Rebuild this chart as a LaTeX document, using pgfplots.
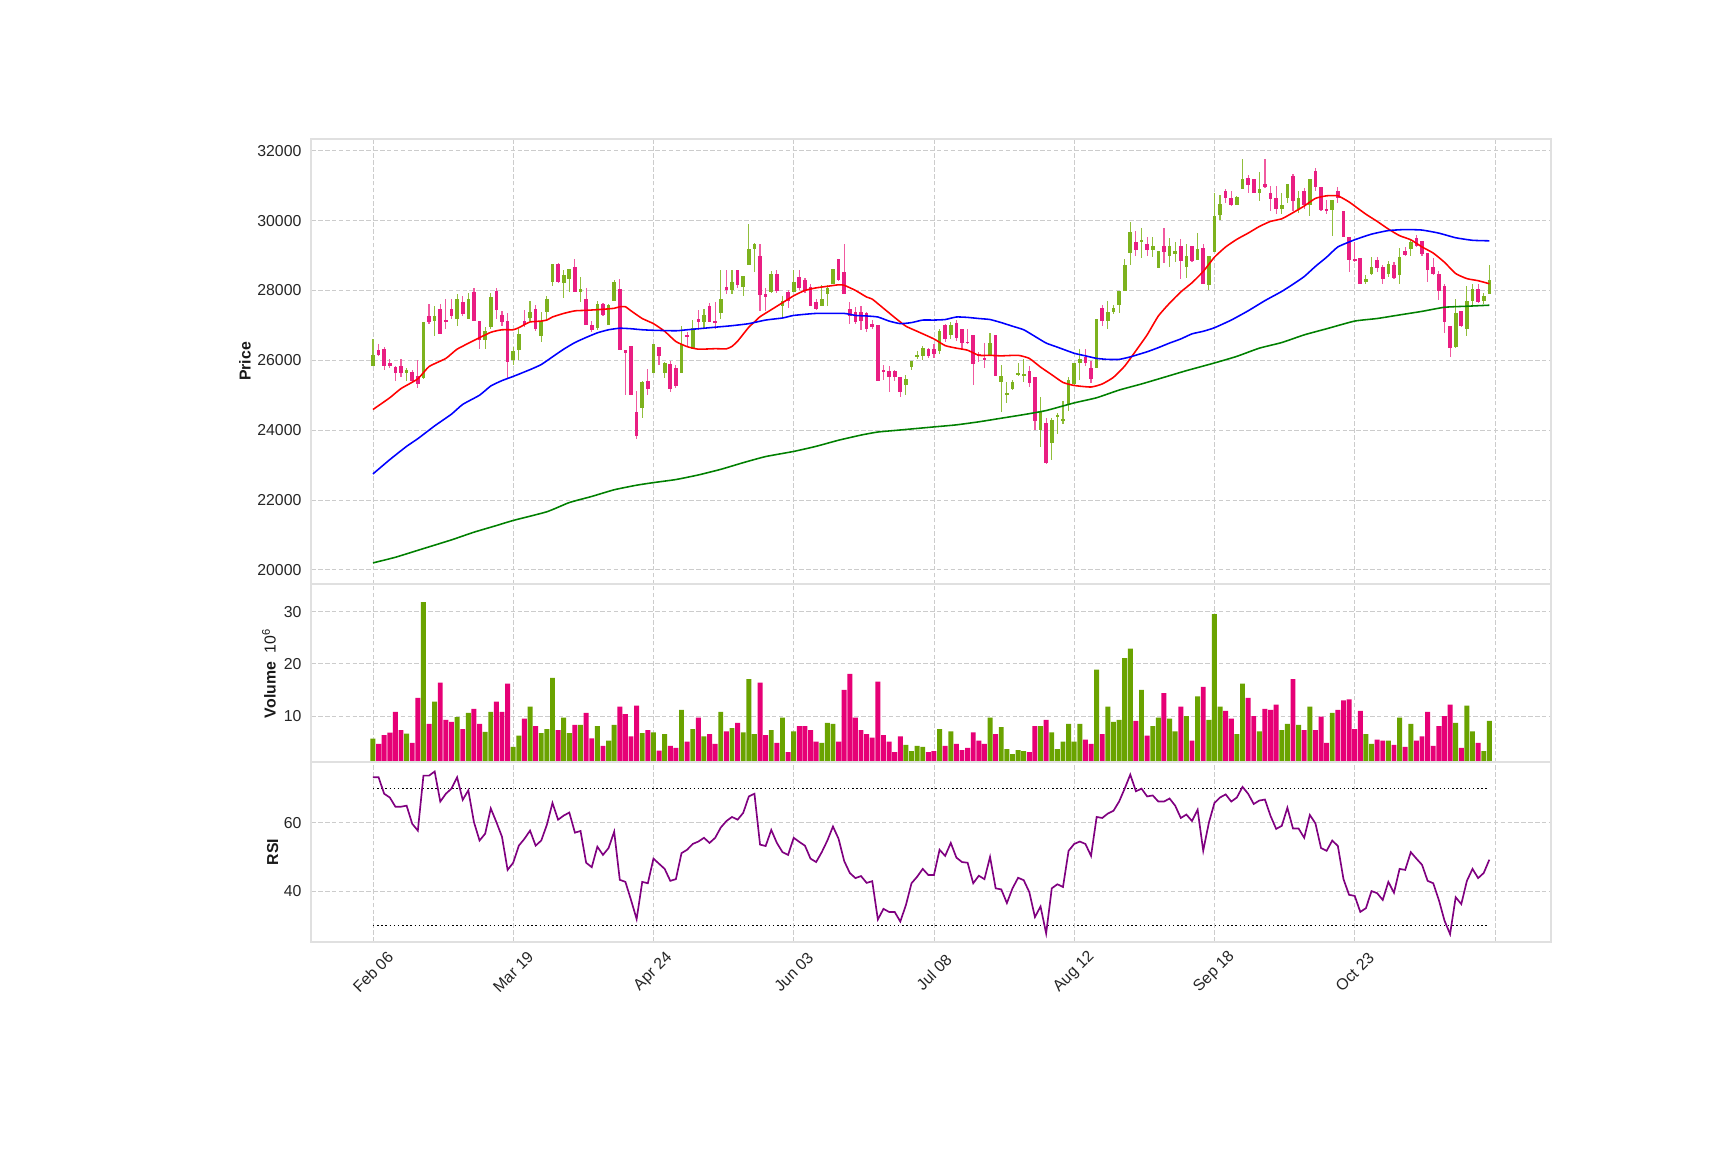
\documentclass[border=0pt]{standalone}
\usepackage{pgfplots}
\pgfplotsset{compat=1.18}
\usepackage{pgfplotstable}
\usepackage{fontspec}
\setmainfont{Liberation Sans}
\setsansfont{Liberation Sans}

\definecolor{upbody}{RGB}{125,178,30}
\definecolor{upwick}{RGB}{145,190,60}
\definecolor{dnbody}{RGB}{233,30,130}
\definecolor{dnwick}{RGB}{240,90,160}
\definecolor{volup}{RGB}{106,163,0}
\definecolor{voldn}{RGB}{230,0,118}
\definecolor{rsic}{RGB}{128,0,128}
\definecolor{magreen}{RGB}{0,128,0}

\pgfplotstableread{
i o h l c v r
0 25851 26613 25851 26144 5.67 73.3
1 26290 26466 26115 26144 4.68 73.3
2 26334 26393 25734 25836 6.35 68.5
3 25924 26027 25793 25836 6.85 67.4
4 25822 25836 25412 25646 10.8 64.7
5 25851 26027 25514 25632 7.34 64.7
6 25632 25778 25412 25719 6.65 65.0
7 25661 25734 25353 25412 4.88 59.7
8 25558 25997 25207 25324 13.5 57.7
9 25485 27110 25470 27110 31.8 73.8
10 27271 27608 27051 27095 8.5 73.8
11 27125 27564 26686 27271 12.76 75.0
12 27476 27608 26744 26750 16.4 66.2
13 27154 27754 26905 27095 9.3 68.5
14 27476 27754 27198 27271 8.9 70.0
15 27198 27886 26978 27754 9.8 73.3
16 27667 27857 27271 27330 7.5 66.7
17 27183 27930 27183 27769 10.6 69.5
18 27959 28076 27125 27130 11.4 60.2
19 27125 27125 26334 26569 8.5 54.8
20 26583 26964 26334 26832 7.0 56.8
21 26949 27930 26905 27827 10.8 64.2
22 27974 28076 27198 27447 12.76 60.2
23 27286 27418 26978 27110 10.8 55.9
24 27139 27344 25500 25954 16.2 46.2
25 25998 26393 25880 26261 4.1 48.3
26 26290 26905 25998 26759 6.26 53.3
27 27139 27447 26964 27022 9.5 55.3
28 27227 27696 27125 27388 11.8 57.7
29 27476 27593 26832 26891 8.1 53.3
30 26700 27374 26539 27125 6.75 54.8
31 27374 27857 27168 27754 7.5 59.4
32 28237 28750 28120 28750 17.3 65.8
33 28750 28780 28208 28237 7.34 60.9
34 28223 28589 27784 28457 9.7 62.1
35 28325 28620 27959 28603 6.75 63.0
36 28677 28896 27959 27965 8.3 57.1
37 27945 28398 27667 28047 8.3 57.6
38 27769 28076 27008 27015 10.6 48.3
39 27022 27125 26818 26861 5.76 47.0
40 26935 27696 26876 27608 8.1 53.0
41 27622 27650 27260 27286 4.3 50.6
42 27022 27608 27022 27579 5.3 52.6
43 27710 28296 27710 28237 8.3 57.4
44 28032 28325 26290 26300 11.8 43.3
45 26290 26300 25002 26203 10.4 42.7
46 26422 26422 25002 25010 6.1 37.4
47 24533 25119 23757 23830 12.0 31.8
48 24636 25397 24343 25383 6.75 42.7
49 25412 25749 25002 25192 7.34 42.3
50 25646 26466 25646 26466 6.9 49.5
51 26393 26393 25866 26115 3.4 48.0
52 25632 25940 25485 25910 6.55 46.5
53 25895 25983 25104 25192 4.3 43.0
54 25793 25866 25207 25266 3.9 43.5
55 25646 26978 25646 26466 11.2 51.1
56 26715 26803 26422 26671 5.1 52.1
57 26320 27169 26320 26935 7.5 53.8
58 27183 27447 26876 27095 9.7 54.5
59 27095 27462 26905 27286 6.1 55.6
60 27564 27637 27095 27100 6.55 54.1
61 27125 27667 26905 27081 4.7 55.6
62 27344 28589 27198 27769 10.8 58.6
63 28106 28589 27886 28018 7.1 60.5
64 28018 28589 27901 28237 7.7 61.7
65 28574 28589 28076 28150 8.7 60.9
66 28091 28428 27842 28428 6.9 62.9
67 28720 29906 28720 29189 17.1 67.7
68 29189 29350 28516 29335 6.55 68.5
69 28999 29321 27418 27872 16.4 53.6
70 27901 28076 27418 27813 6.35 53.2
71 27945 28545 27930 28472 7.34 57.9
72 28472 28589 27930 27989 4.88 54.1
73 27564 27857 27227 27710 9.7 51.4
74 27945 28003 27491 27696 3.1 50.6
75 27959 28589 27959 28252 7.1 55.6
76 28398 28589 28003 28076 8.1 54.4
77 28311 28369 27930 27989 8.1 53.3
78 28106 28179 27549 27555 7.34 49.5
79 27681 27754 27447 27462 5.1 48.5
80 27549 28150 27549 27754 4.88 51.4
81 27901 28150 27564 28076 8.7 54.8
82 28194 28603 28194 28603 8.5 58.9
83 28896 28896 28281 28311 5.1 55.3
84 28516 29321 27901 27910 15.0 48.8
85 27462 27667 27051 27257 18.1 45.3
86 27374 27520 27051 27110 9.7 43.8
87 27374 27550 26861 27125 7.34 44.4
88 27359 27388 26818 26891 6.55 42.4
89 27051 27168 26905 26949 5.86 42.9
90 27022 27022 25412 25420 16.6 31.7
91 25720 25866 25441 25690 6.35 34.8
92 25705 25837 25104 25529 5.1 33.9
93 25705 25710 25412 25529 3.1 33.9
94 25529 25529 24958 25104 6.1 31.1
95 25280 25588 25002 25471 4.5 35.9
96 25822 25983 25720 25983 3.3 42.3
97 26085 26276 26027 26159 4.3 44.2
98 26115 26407 25998 26349 4.1 46.5
99 26334 26360 26070 26115 3.1 44.7
100 26334 26466 26056 26173 3.3 44.7
101 26276 26905 26173 26832 7.5 52.1
102 27022 27051 26539 26612 4.3 50.3
103 26715 27110 26612 27022 7.1 54.1
104 27066 27154 26568 26642 4.7 49.8
105 26905 26905 26320 26510 3.5 48.5
106 26539 26905 26480 26495 3.9 48.3
107 26715 26715 25295 25895 6.9 42.3
108 26173 26250 25950 26129 5.3 44.5
109 26071 26495 25778 25998 4.7 43.5
110 26159 26788 26144 26495 9.7 50.0
111 26730 26730 25544 25550 6.55 40.8
112 25383 25880 24519 25558 7.9 40.5
113 25002 25368 24768 25061 3.7 36.5
114 25193 25441 25148 25368 2.7 40.8
115 25573 25910 25558 25646 3.5 43.9
116 25573 26027 25368 25603 3.3 43.2
117 25705 25851 25251 25339 3.1 39.7
118 25514 25514 24006 24255 8.1 32.4
119 24006 24958 23508 24563 8.1 35.5
120 24197 24343 23040 23050 9.3 27.6
121 23640 24343 23142 24299 6.9 40.8
122 24372 24490 23889 24446 3.7 42.0
123 24255 24826 24167 24314 5.1 41.2
124 24709 25514 24563 25441 8.5 51.8
125 25324 25925 25300 25925 5.1 53.8
126 25910 26320 25441 26027 8.5 54.5
127 26100 26320 25837 25910 5.5 53.8
128 25793 25983 25353 25471 4.7 50.3
129 25793 27198 25793 27198 18.9 61.7
130 27491 27593 26978 27125 6.55 61.4
131 27125 27710 26905 27374 11.8 62.7
132 27374 27593 27330 27491 8.9 63.5
133 27593 27989 27344 27989 9.3 66.2
134 27989 28911 27989 28735 21.1 70.0
135 29072 29950 28735 29687 22.9 74.1
136 29394 29716 28984 29174 9.1 69.2
137 29394 29804 28926 29452 15.0 70.0
138 29335 29540 28984 29174 6.26 67.7
139 29174 29540 28955 29277 8.1 68.0
140 28633 29130 28633 29130 9.7 66.2
141 29277 29789 28779 29116 14.4 66.2
142 28984 29497 28662 29277 9.5 67.1
143 29043 29394 28808 29130 7.1 65.0
144 29277 29467 28340 28838 11.8 61.4
145 28662 29321 28369 28984 10.0 62.4
146 29262 29262 28808 28838 5.3 60.5
147 28867 29658 28867 29189 13.8 63.8
148 29204 29321 28179 28185 15.6 51.8
149 28150 28984 28003 28984 9.3 60.0
150 29101 30785 29101 30126 29.5 65.8
151 30155 30741 30009 30478 11.8 67.4
152 30858 30902 30492 30639 11.0 68.3
153 30639 30858 30419 30448 9.5 66.2
154 30463 30700 30440 30668 6.55 67.4
155 30902 31766 30902 31180 16.2 70.5
156 31224 31297 30785 31034 13.5 68.5
157 31180 31200 30785 30790 10.0 65.5
158 30785 31400 30565 30917 7.1 66.5
159 31048 31766 30931 30975 11.4 66.8
160 30785 31004 30273 30609 11.2 62.0
161 30653 31004 30200 30331 12.2 58.2
162 30331 30785 30200 30448 7.34 59.1
163 30653 31063 30492 31063 8.5 64.4
164 31268 31326 30273 30565 17.1 58.3
165 30346 30858 30229 30639 8.3 58.3
166 30858 30931 30346 30448 7.34 55.6
167 30448 31180 30126 31180 11.8 62.3
168 31414 31517 30858 30975 7.34 59.8
169 30975 30975 30273 30317 9.9 52.6
170 30346 30595 30200 30273 4.88 51.8
171 30317 30595 29570 30595 10.6 54.8
172 30858 30961 30492 30639 11.2 53.2
173 30273 30290 29520 29540 13.0 43.5
174 29540 29540 28516 28867 13.2 38.9
175 28896 29394 28808 28867 7.5 38.6
176 28926 28940 28179 28185 11.0 33.9
177 28252 28442 28194 28340 6.55 35.0
178 28486 28955 28442 28662 4.7 40.0
179 28867 28955 28516 28633 5.5 39.4
180 28662 28735 28179 28340 5.3 37.4
181 28486 28838 28398 28750 5.3 42.7
182 28720 28808 28340 28369 4.5 39.5
183 28442 29218 28194 28955 9.7 46.5
184 29130 29250 28980 29028 4.1 46.2
185 29189 29467 28984 29394 8.5 51.4
186 29511 29599 29248 29277 5.3 49.5
187 29423 29423 28984 29043 6.1 47.7
188 29072 29072 28252 28589 10.8 43.0
189 28662 28926 28442 28486 4.3 42.3
190 28472 28545 27740 27989 8.1 37.4
191 28135 28179 26788 27110 10.0 31.4
192 26993 26993 26100 26349 12.2 27.4
193 26378 27754 26349 27344 8.7 38.2
194 27403 27420 26950 26978 3.9 36.2
195 26905 28120 26686 27696 12.0 43.0
196 27696 28179 27520 28032 7.1 46.5
197 28032 28179 27637 27667 4.88 43.8
198 27696 27930 27608 27857 3.3 45.3
199 27901 28735 27901 28311 9.1 49.2
}\cdata

\pgfplotstableread{
i m
0 24592
3 24929
5 25192
8 25471
10 25822
13 26056
15 26320
18 26568
21 26803
23 26876
25 26876
26 26935
27 27022
28 27100
30 27125
31 27154
32 27242
34 27344
36 27418
38 27432
41 27462
43 27491
44 27535
45 27535
46 27418
48 27198
50 27051
52 26832
54 26539
56 26393
58 26320
61 26334
63 26330
64 26400
65 26550
66 26750
67 26950
68 27100
69 27250
71 27450
73 27650
75 27850
77 28003
79 28076
81 28120
83 28164
84 28150
86 28003
88 27813
89 27754
91 27491
93 27227
95 26978
97 26832
100 26613
102 26422
104 26349
106 26290
108 26144
110 26144
112 26129
115 26144
117 26056
119 25807
121 25588
123 25368
125 25280
128 25236
130 25324
132 25514
134 25836
136 26276
138 26730
140 27271
142 27637
144 27959
146 28223
148 28545
150 28955
152 29248
154 29467
156 29643
158 29833
160 29980
162 30053
164 30229
166 30419
168 30639
170 30712
172 30712
174 30536
175 30419
177 30185
179 29980
181 29760
183 29570
185 29453
187 29248
189 29072
191 28809
193 28486
195 28340
197 28281
199 28194
}\mared

\pgfplotstableread{
i m
0 22747
3 23157
6 23538
8 23757
11 24124
14 24460
16 24739
19 25002
21 25266
23 25420
25 25540
28 25734
30 25880
32 26100
34 26320
36 26510
38 26656
40 26788
42 26876
44 26920
46 26905
48 26876
50 26861
54 26847
56 26876
58 26905
61 26949
64 26993
67 27051
70 27154
73 27213
75 27286
79 27344
84 27344
86 27286
88 27271
90 27242
92 27125
94 27051
96 27081
98 27154
100 27154
102 27169
104 27242
106 27230
108 27198
110 27169
112 27081
114 26978
116 26876
118 26686
120 26495
122 26378
125 26203
127 26129
129 26056
131 26027
133 26027
135 26100
138 26246
140 26364
142 26495
144 26613
146 26759
148 26832
150 26934
153 27154
156 27418
159 27710
162 27974
164 28179
166 28399
168 28691
170 28955
172 29248
175 29453
178 29614
181 29716
184 29745
187 29731
190 29643
193 29511
196 29438
199 29423
}\mablue

\pgfplotstableread{
i m
0 20200
4 20361
9 20610
14 20859
18 21079
22 21269
25 21415
31 21664
35 21928
39 22103
43 22294
47 22425
50 22499
54 22587
58 22718
62 22879
66 23070
70 23245
75 23392
79 23538
83 23713
87 23860
90 23948
94 24006
100 24094
104 24153
108 24240
112 24343
116 24446
120 24563
125 24782
129 24929
133 25149
137 25324
141 25514
145 25705
150 25925
154 26115
158 26349
162 26510
166 26730
170 26905
175 27125
179 27198
183 27301
187 27403
191 27520
195 27550
199 27579
}\magreen

\pgfplotsset{
  panel/.style={
    scale only axis,
    width=595.1pt,
    xmin=-11, xmax=210,
    xtick={0,25,...,200},
    grid=major,
    grid style={dash pattern=on 2.2pt off 1.1pt, color=black!20, line width=0.4pt},
    axis line style={draw=black!12, line width=0.9pt},
    tick style={draw=none},
    major tick length=0pt,
    tick label style={font=\fontsize{7.6}{9}\selectfont, color=black!85},
    scaled y ticks=false,
    /pgf/number format/assume math mode=true,
    /pgf/number format/1000 sep={},
    /pgf/number format/fixed,
    every axis y label/.style={font=\fontsize{7.6}{9}\selectfont\bfseries, color=black!90, rotate=90, anchor=center},
    yticklabel style={xshift=-1.2pt},
  },
  candle/.style={draw=none, mark=none, forget plot, mark size=0pt},
}

\begin{document}
\begin{tikzpicture}
\fill[white] (0,0) rectangle (828pt,552pt);

% Price panel
\begin{axis}[panel,
  at={(149.4pt,271.6pt)}, anchor=south west,
  height=213.8pt,
  ymin=19591, ymax=32346,
  ytick={20000,22000,...,32000},
  xticklabels={},
  ylabel={Price},
  every axis y label/.append style={at={(axis description cs:-0.0534,0.5)}},
]
\addplot[candle,
  restrict expr to domain={\thisrow{c}-\thisrow{o}}{0:1000000},
  error bars/.cd, y dir=both, y explicit, error mark=none,
  error bar style={line width=0.55pt, draw=upwick}]
  table[x=i, y expr={(\thisrow{h}+\thisrow{l})/2}, y error expr={(\thisrow{h}-\thisrow{l})/2}] {\cdata};
\addplot[candle,
  restrict expr to domain={\thisrow{c}-\thisrow{o}}{-1000000:-0.5},
  error bars/.cd, y dir=both, y explicit, error mark=none,
  error bar style={line width=0.55pt, draw=dnwick}]
  table[x=i, y expr={(\thisrow{h}+\thisrow{l})/2}, y error expr={(\thisrow{h}-\thisrow{l})/2}] {\cdata};
\addplot[candle,
  restrict expr to domain={\thisrow{c}-\thisrow{o}}{0:1000000},
  error bars/.cd, y dir=both, y explicit, error mark=none,
  error bar style={line width=1.75pt, draw=upbody}]
  table[x=i, y expr={(\thisrow{o}+\thisrow{c})/2}, y error expr={abs(\thisrow{c}-\thisrow{o})/2}] {\cdata};
\addplot[candle,
  restrict expr to domain={\thisrow{c}-\thisrow{o}}{-1000000:-0.5},
  error bars/.cd, y dir=both, y explicit, error mark=none,
  error bar style={line width=1.75pt, draw=dnbody}]
  table[x=i, y expr={(\thisrow{o}+\thisrow{c})/2}, y error expr={abs(\thisrow{c}-\thisrow{o})/2}] {\cdata};
\addplot[red, line width=0.75pt, smooth, tension=0.3] table[x=i, y=m] {\mared};
\addplot[blue, line width=0.75pt, smooth, tension=0.3] table[x=i, y=m] {\mablue};
\addplot[magreen, line width=0.75pt, smooth, tension=0.3] table[x=i, y=m] {\magreen};
\end{axis}

% Volume panel
\begin{axis}[panel,
  at={(149.4pt,186.1pt)}, anchor=south west,
  height=85.5pt,
  ymin=1.16, ymax=35.26,
  ytick={10,20,30},
  xticklabels={},
  ylabel={Volume\ \ {\normalfont\mdseries 10\textsuperscript{6}}},
  every axis y label/.append style={at={(axis description cs:-0.0341,0.5)}},
]
\addplot[ybar, bar width=0.88, bar shift=0pt, fill=volup, draw=none,
  restrict expr to domain={\thisrow{c}-\thisrow{o}}{0:1000000}]
  table[x=i, y=v] {\cdata};
\addplot[ybar, bar width=0.88, bar shift=0pt, fill=voldn, draw=none,
  restrict expr to domain={\thisrow{c}-\thisrow{o}}{-1000000:-0.5}]
  table[x=i, y=v] {\cdata};
\end{axis}

% RSI panel
\begin{axis}[panel,
  at={(149.4pt,100.0pt)}, anchor=south west,
  height=86.1pt,
  ymin=25.2, ymax=77.7,
  ytick={40,60},
  xticklabels={Feb 06,Mar 19,Apr 24,Jun 03,Jul 08,Aug 12,Sep 18,Oct 23,{}},
  xticklabel style={yshift=-14.6pt, rotate=45, anchor=center},
  ylabel={RSI},
  every axis y label/.append style={at={(axis description cs:-0.0311,0.5)}},
]
\addplot[black, line width=0.7pt, dash pattern=on 0.7pt off 1.3pt] coordinates {(0,70) (199,70)};
\addplot[black, line width=0.7pt, dash pattern=on 0.7pt off 1.3pt] coordinates {(0,30) (199,30)};
\addplot[rsic, line width=0.8pt] table[x=i, y=r] {\cdata};
\end{axis}
\end{tikzpicture}
\end{document}
